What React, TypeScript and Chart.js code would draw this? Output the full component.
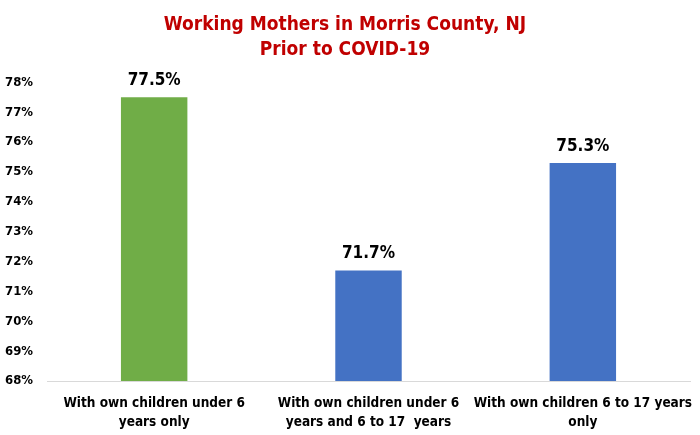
import React, { useEffect, useRef } from 'react';
import { Chart, registerables } from 'chart.js';

Chart.register(...registerables);

const categories: string[][] = [
  ['With own children under 6', 'years only'],
  ['With own children under 6', 'years and 6 to 17  years'],
  ['With own children 6 to 17 years', 'only'],
];
const shares: number[] = [77.5, 71.7, 75.3];
const barColors: string[] = ['#70AD47', '#4472C4', '#4472C4'];
const titleLines: string[] = ['Working Mothers in Morris County, NJ', 'Prior to COVID-19'];

const FONT = '"DejaVu Sans Condensed", "Liberation Sans Narrow", "Open Sans", Arial, sans-serif';

const valueLabels = {
  id: 'valueLabels',
  afterDatasetsDraw(chart: Chart) {
    const { ctx } = chart;
    const meta = chart.getDatasetMeta(0);
    ctx.save();
    ctx.font = `bold 17px ${FONT}`;
    ctx.fillStyle = '#000000';
    ctx.textAlign = 'center';
    ctx.textBaseline = 'bottom';
    meta.data.forEach((bar: any, i: number) => {
      ctx.fillText(`${shares[i].toFixed(1)}%`, bar.x, bar.y - 8);
    });
    ctx.restore();
  },
};

export default function App() {
  const canvasRef = useRef<HTMLCanvasElement>(null);

  useEffect(() => {
    if (!canvasRef.current) return;
    const chart = new Chart(canvasRef.current, {
      type: 'bar',
      data: {
        labels: categories,
        datasets: [
          {
            data: shares,
            backgroundColor: barColors,
            barPercentage: 0.31,
            categoryPercentage: 1,
          },
        ],
      },
      options: {
        responsive: true,
        maintainAspectRatio: false,
        animation: false,
        layout: { padding: { left: 0, right: 10, top: 0, bottom: 0 } },
        plugins: {
          legend: { display: false },
          tooltip: { enabled: false },
          title: {
            display: true,
            text: titleLines,
            color: '#C00000',
            font: { family: FONT, size: 19, weight: 'bold', lineHeight: 1.35 },
            padding: { top: 12, bottom: 19 },
          },
        },
        scales: {
          x: {
            grid: { display: false, drawTicks: false },
            border: { display: true, color: '#D9D9D9', width: 1 },
            ticks: {
              color: '#000000',
              padding: 13,
              maxRotation: 0,
              autoSkip: false,
              font: { family: FONT, size: 13.5, weight: 'bold', lineHeight: 1.4 },
            },
            afterFit(scale: any) {
              scale.height = 54;
              scale.paddingLeft = 0;
              scale.paddingRight = 0;
            },
          },
          y: {
            min: 68,
            max: 78,
            grid: { display: false, drawTicks: false },
            border: { display: false },
            ticks: {
              stepSize: 1,
              color: '#000000',
              padding: 14,
              font: { family: FONT, size: 13, weight: 'bold' },
              callback: (v: any) => `${v}%`,
            },
            afterFit(scale: any) {
              scale.width = 47;
            },
          },
        },
      },
      plugins: [valueLabels],
    });
    return () => chart.destroy();
  }, []);

  return (
    <div style={{ position: 'fixed', left: 0, top: 0, width: 700, height: 435, background: '#ffffff' }}>
      <canvas ref={canvasRef} />
    </div>
  );
}
